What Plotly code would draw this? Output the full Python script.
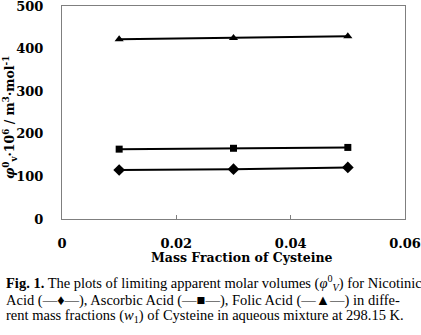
import plotly.graph_objects as go

mass_fraction = [0.01, 0.03, 0.05]
nicotinic = [115, 117, 121]
ascorbic = [164, 166, 168]
folic = [422, 425, 429]

x_ticks = [0, 0.02, 0.04, 0.06]
x_tick_labels = ["0", "0.02", "0.04", "0.06"]
y_ticks = [0, 100, 200, 300, 400, 500]

fig = go.Figure()
line = dict(color="black", width=2)
fig.add_trace(go.Scatter(x=mass_fraction, y=nicotinic, mode="lines+markers", line=line,
                         marker=dict(symbol="diamond", size=9, color="black"), name="Nicotinic Acid"))
fig.add_trace(go.Scatter(x=mass_fraction, y=ascorbic, mode="lines+markers", line=line,
                         marker=dict(symbol="square", size=7, color="black"), name="Ascorbic Acid"))
fig.add_trace(go.Scatter(x=mass_fraction, y=folic, mode="lines+markers", line=line,
                         marker=dict(symbol="triangle-up", size=8, color="black"), name="Folic Acid"))

tickfont = dict(family="DejaVu Serif", size=13, color="black", weight="bold")
fig.update_xaxes(range=[0, 0.06], tickvals=x_ticks, ticktext=x_tick_labels, tickfont=tickfont,
                 showgrid=False, zeroline=False, showline=True, linecolor="#7f7f7f", linewidth=1,
                 mirror=True, ticks="inside", ticklen=4, tickcolor="#7f7f7f", ticklabelstandoff=12,
                 automargin=False, ticklabeloverflow="allow")
fig.update_yaxes(range=[0, 500], tickvals=y_ticks, tickfont=tickfont,
                 showgrid=False, zeroline=False, showline=True, linecolor="#7f7f7f", linewidth=1,
                 mirror=True, ticks="", ticklabelstandoff=15, automargin=False,
                 ticklabeloverflow="allow")

TOP = 6
BOT = 219
H = float(BOT - TOP)
W = 343.0
def py(ypix):
    return (BOT - ypix) / H

def px(xpix):
    return (xpix - 62) / W

fig.add_annotation(text="<b>Mass Fraction of Cysteine</b>", xref="paper", yref="paper",
                   x=px(242), y=py(257), showarrow=False, xanchor="center", yanchor="middle",
                   font=dict(family="DejaVu Serif", size=12.5, color="black"))
fig.add_annotation(text="<b><i>φ</i><sup>0</sup><sub>v</sub>·10<sup>6</sup> / m<sup>3</sup>·mol<sup>-1</sup></b>",
                   xref="paper", yref="paper", x=px(10), y=py(118), textangle=-90,
                   showarrow=False, xanchor="center", yanchor="middle",
                   font=dict(family="DejaVu Serif", size=12.5, color="black"))

cap_font = dict(family="Liberation Serif", size=14.5, color="black")
captions = [
    "<b>Fig. 1.</b> The plots of limiting apparent molar volumes (<i>φ</i><sup>0</sup><sub><i>V</i></sub>) for Nicotinic",
    "Acid (—♦—), Ascorbic Acid (—■—), Folic Acid (—▲—) in diffe-",
    "rent mass fractions (<i>w</i><sub>1</sub>) of Cysteine in aqueous mixture at 298.15 K.",
]
cap_y = [283, 300, 316]
for t, yy in zip(captions, cap_y):
    fig.add_annotation(text=t, xref="paper", yref="paper", x=px(4), y=py(yy),
                       showarrow=False, xanchor="left", yanchor="middle", font=cap_font)

fig.update_layout(width=421, height=335, margin=dict(l=62, r=16, t=TOP, b=335 - BOT, autoexpand=False),
                  plot_bgcolor="white", paper_bgcolor="white", showlegend=False)
fig.write_html("out.html", config={"displayModeBar": False},
               post_script="document.body.style.margin='0';")
